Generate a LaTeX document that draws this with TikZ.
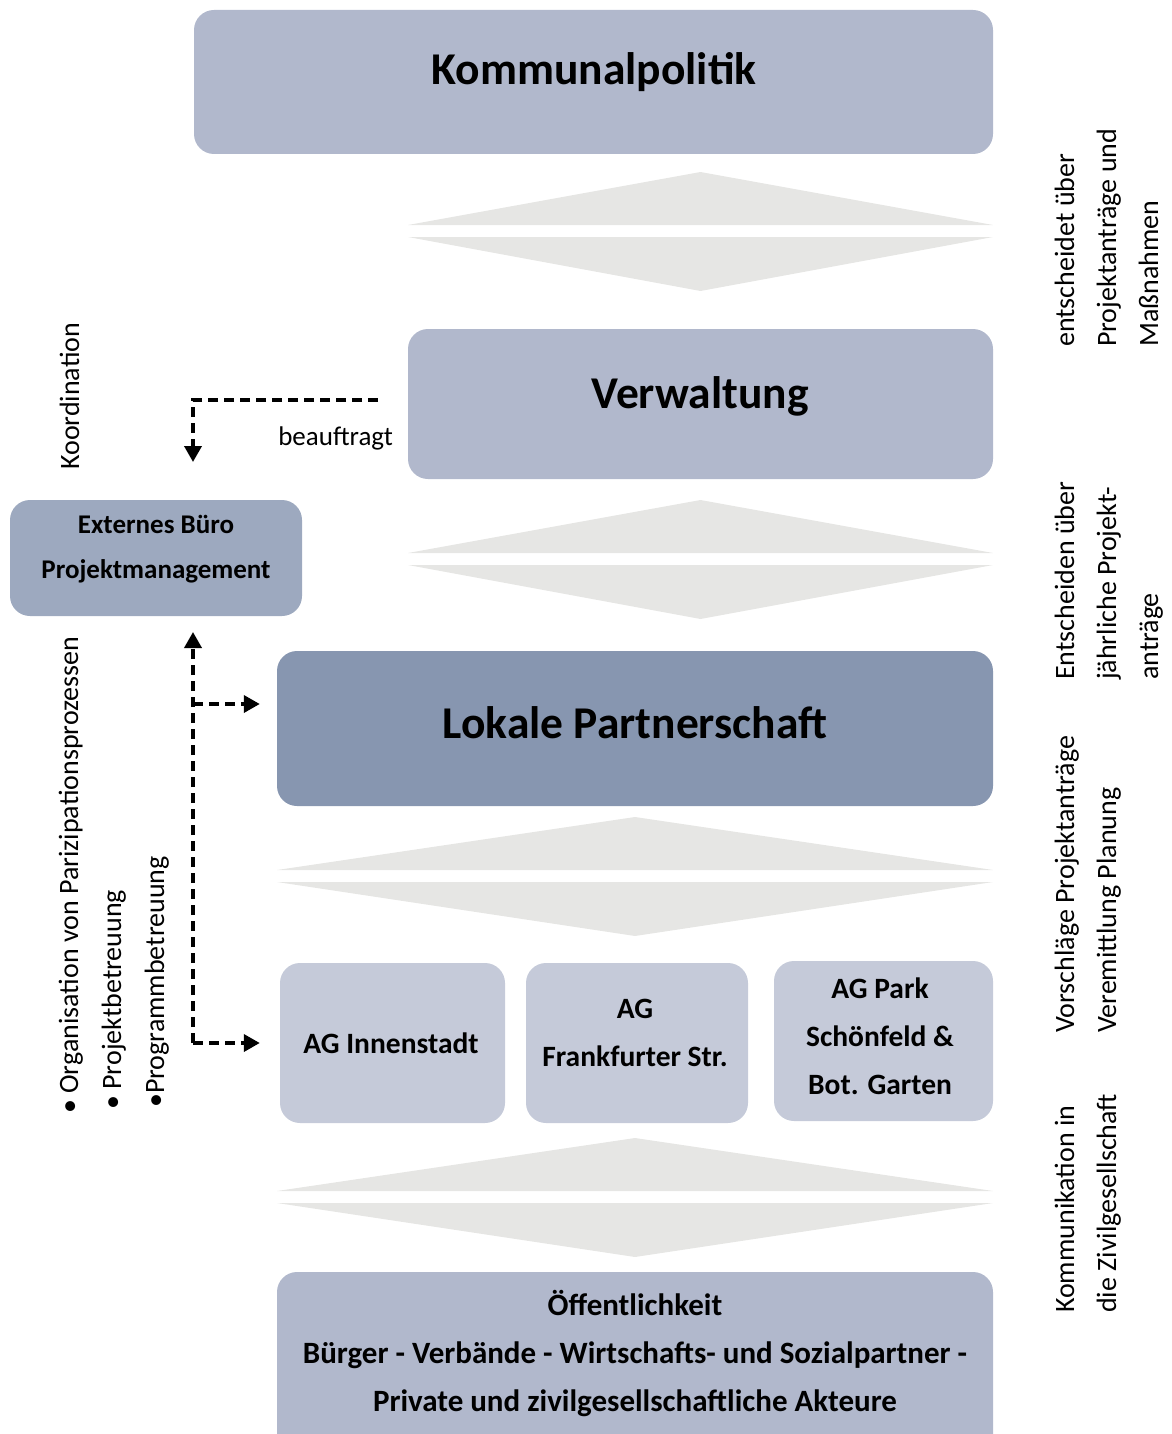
\documentclass[tikz,border=0pt]{standalone}
\usepackage{fontspec}
\setmainfont{Carlito}
\usetikzlibrary{arrows.meta}
\definecolor{boxA}{HTML}{B1B8CC}
\definecolor{boxB}{HTML}{8796B0}
\definecolor{boxC}{HTML}{C5CAD9}
\definecolor{boxD}{HTML}{9DA9BF}
\definecolor{chev}{HTML}{E6E6E4}
\newcommand\dchev[3]{%
  \fill[chev] (#1,#3+53) -- ({(#1+#2)/2},#3) -- (#2,#3+53) -- cycle;
  \fill[chev] (#1,#3+65) -- (#2,#3+65) -- ({(#1+#2)/2},#3+119) -- cycle;}
\begin{document}
\begin{tikzpicture}[x=1pt,y=-1pt,
  box/.style={rounded corners=20pt, inner sep=0pt, align=center, font=\bfseries},
  big/.style={font=\fontsize{45.5}{50}\selectfont\bfseries},
  mid/.style={font=\fontsize{29.5}{48}\selectfont\bfseries, align=center, inner sep=0pt},
  rot/.style={rotate=90, anchor=base west, inner sep=0pt, font=\fontsize{28}{32}\selectfont},
  dashline/.style={line width=3.6pt, dash pattern=on 10pt off 6pt,
    -{Triangle[length=16pt,width=17pt]}}]
\useasboundingbox (0,0) rectangle (1171,1434);

% boxes
\node[box, fill=boxA, minimum width=799pt, minimum height=144pt] (kp) at (593.5,82) {};
\node[big] (kptxt) at (594,72) {Kommunalpolitik};
\node[box, fill=boxA, minimum width=585pt, minimum height=150pt] (vw) at (700.5,404) {};
\node[big] (vwtxt) at (700,396) {Verwaltung};
\node[box, fill=boxB, minimum width=716pt, minimum height=155pt] (lp) at (635,728.5) {};
\node[big] (lptxt) at (635,723) {Lokale Partnerschaft};
\node[box, fill=boxC, minimum width=225pt, minimum height=160pt] (ag1) at (392.5,1043) {};
\node[mid] (ag1txt) at (391,1043) {AG Innenstadt};
\node[box, fill=boxC, minimum width=222pt, minimum height=160pt] (ag2) at (637,1043) {};
\node[mid] (ag2txt) at (635,1033) {AG\\Frankfurter Str.};
\node[box, fill=boxC, minimum width=219pt, minimum height=160pt] (ag3) at (883.5,1041) {};
\node[mid] (ag3txt) at (880,1036) {AG Park\\Schönfeld \&\\Bot. Garten};
\node[box, fill=boxA, minimum width=716pt, minimum height=190pt] (oe) at (635,1367) {};
\node[mid, font=\fontsize{31}{48}\selectfont\bfseries] (oetxt) at (635,1353) {Öffentlichkeit\\Bürger - Verbände - Wirtschafts- und Sozialpartner -\\Private und zivilgesellschaftliche Akteure};
\node[box, fill=boxD, minimum width=292pt, minimum height=116pt] (ext) at (156,558) {};
\node[font=\fontsize{27}{45}\selectfont\bfseries, align=center, inner sep=0pt] (exttxt) at (156,549.5) {Externes Büro\\Projektmanagement};

% double chevrons
\dchev{408}{993}{172}
\dchev{408}{993}{500}
\dchev{277}{993}{817}
\dchev{277}{993}{1138}

% dashed connectors
\coordinate (bst) at (378,400);
\coordinate (bend) at (193,462);
\draw[dashline] (bst) -| (bend);
\node[anchor=base east, inner sep=0pt, font=\fontsize{27}{32}\selectfont] (beauf) at (393,445) {beauftragt};
\coordinate (vbot) at (193,1043);
\coordinate (vtop) at (193,632);
\coordinate (j1) at (193,704);
\draw[dashline] (vbot) -- (vtop);
\draw[dashline, shorten >=17pt] (j1) -- (j1 -| lp.west);
\draw[dashline, shorten >=20pt] (vbot) -- (vbot -| ag1.west);

% left texts
\node[rot] (koord) at (79,470) {Koordination};
\node[rot] (l1) at (78,1114) {• Organisation von Parizipationsprozessen};
\node[rot] (l2) at (121,1110) {• Projektbetreuung};
\node[rot] (l3) at (164,1108) {•Programmbetreuung};

% right texts
\node[rot] (r1a) at (1074,347) {entscheidet über};
\node[rot] (r1b) at (1116,347) {Projektanträge und};
\node[rot] (r1c) at (1158,347) {Maßnahmen};
\node[rot] (r2a) at (1074,680) {Entscheiden über};
\node[rot] (r2b) at (1116,680) {jährliche Projekt-};
\node[rot] (r2c) at (1158,680) {anträge};
\node[rot] (r3a) at (1074,1033) {Vorschläge Projektanträge};
\node[rot] (r3b) at (1116,1033) {Veremittlung Planung};
\node[rot] (r4a) at (1074,1313) {Kommunikation in};
\node[rot] (r4b) at (1116,1313) {die Zivilgesellschaft};
\end{tikzpicture}
\end{document}
